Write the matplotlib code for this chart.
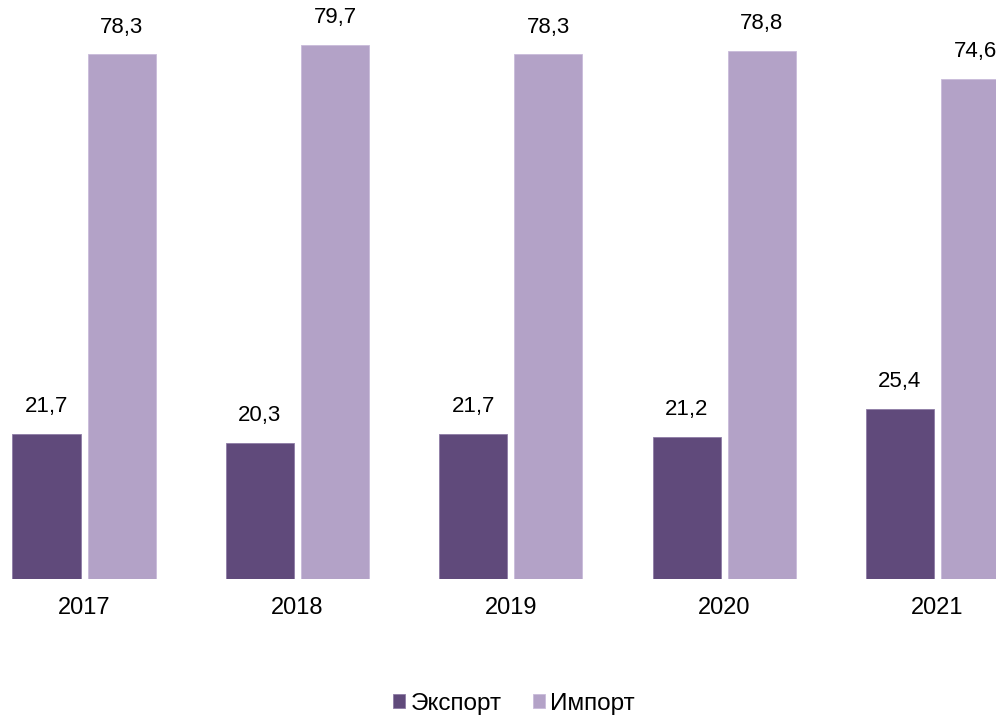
import matplotlib
matplotlib.use("Agg")
import matplotlib.pyplot as plt
import numpy as np

plt.rcParams['font.family'] = ['Liberation Sans', 'DejaVu Sans']

years = ["2017", "2018", "2019", "2020", "2021"]
export_vals = [21.7, 20.3, 21.7, 21.2, 25.4]
import_vals = [78.3, 79.7, 78.3, 78.8, 74.6]

export_color = "#604A7B"
import_color = "#B3A2C7"

fig = plt.figure(figsize=(9.96, 7.21), dpi=100)
ax = fig.add_axes([0, 0.197, 1, 0.803])

x = np.arange(len(years))
width = 0.319
off = 0.176

b1 = ax.bar(x - off, export_vals, width, color=export_color, edgecolor="#8E7CA6",
            linewidth=0.6, label="Экспорт")
b2 = ax.bar(x + off, import_vals, width, color=import_color, edgecolor="#C9BBDA",
            linewidth=0.6, label="Импорт")

def fmt(v):
    return f"{v:.1f}".replace(".", ",")

for bars, vals in ((b1, export_vals), (b2, import_vals)):
    for rect, v in zip(bars, vals):
        ax.annotate(fmt(v), (rect.get_x() + rect.get_width() / 2, v),
                    xytext=(0, 12), textcoords="offset points",
                    ha="center", va="bottom", fontsize=16, color="#000000")

ax.set_xlim(-0.394, 4.274)
ax.set_ylim(0, 86.4)
ax.set_xticks(x)
ax.set_xticklabels(years, fontsize=17)
ax.tick_params(axis="x", length=0, pad=13)
ax.set_yticks([])
for s in ax.spines.values():
    s.set_visible(False)

fig.legend(handles=[b1, b2], loc="lower center", bbox_to_anchor=(0.516, -0.022),
           ncol=2, frameon=False, fontsize=17.5, handlelength=0.5,
           handleheight=0.5, handletextpad=0.2, columnspacing=1.3)

fig.savefig("out.png", dpi=100)
